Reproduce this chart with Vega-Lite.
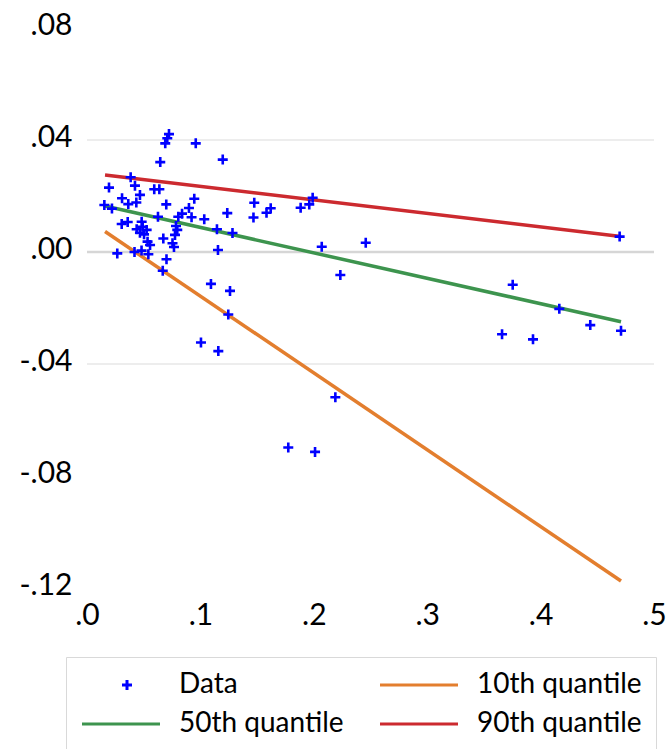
{
  "$schema": "https://vega.github.io/schema/vega-lite/v6.json",
  "width": 567,
  "height": 560,
  "autosize": {"type": "none"},
  "padding": {"left": 87, "top": 28, "right": 13, "bottom": 161},
  "background": "white",
  "config": {
    "view": {"stroke": null},
    "font": "Lato",
    "axis": {"labelFont": "Lato", "labelColor": "#000000", "labelFontSize": 30, "domain": false, "ticks": false, "grid": false},
    "legend": {"labelFont": "Lato"}
  },
  "datasets": {
    "points": [
      {"series": "Data", "x": 0.0723, "y": 0.0421},
      {"series": "Data", "x": 0.0708, "y": 0.0406},
      {"series": "Data", "x": 0.0690, "y": 0.0388},
      {"series": "Data", "x": 0.0959, "y": 0.0388},
      {"series": "Data", "x": 0.0646, "y": 0.0321},
      {"series": "Data", "x": 0.1197, "y": 0.0330},
      {"series": "Data", "x": 0.0385, "y": 0.0267},
      {"series": "Data", "x": 0.0194, "y": 0.0230},
      {"series": "Data", "x": 0.0423, "y": 0.0237},
      {"series": "Data", "x": 0.0467, "y": 0.0204},
      {"series": "Data", "x": 0.0593, "y": 0.0224},
      {"series": "Data", "x": 0.0638, "y": 0.0224},
      {"series": "Data", "x": 0.0309, "y": 0.0192},
      {"series": "Data", "x": 0.0364, "y": 0.0171},
      {"series": "Data", "x": 0.0435, "y": 0.0177},
      {"series": "Data", "x": 0.0153, "y": 0.0168},
      {"series": "Data", "x": 0.0220, "y": 0.0155},
      {"series": "Data", "x": 0.0699, "y": 0.0170},
      {"series": "Data", "x": 0.0946, "y": 0.0190},
      {"series": "Data", "x": 0.1475, "y": 0.0176},
      {"series": "Data", "x": 0.0899, "y": 0.0157},
      {"series": "Data", "x": 0.1468, "y": 0.0123},
      {"series": "Data", "x": 0.1583, "y": 0.0140},
      {"series": "Data", "x": 0.1237, "y": 0.0139},
      {"series": "Data", "x": 0.1034, "y": 0.0117},
      {"series": "Data", "x": 0.0922, "y": 0.0124},
      {"series": "Data", "x": 0.0805, "y": 0.0126},
      {"series": "Data", "x": 0.0838, "y": 0.0137},
      {"series": "Data", "x": 0.0626, "y": 0.0126},
      {"series": "Data", "x": 0.0306, "y": 0.0100},
      {"series": "Data", "x": 0.0359, "y": 0.0107},
      {"series": "Data", "x": 0.0482, "y": 0.0108},
      {"series": "Data", "x": 0.0438, "y": 0.0081},
      {"series": "Data", "x": 0.0491, "y": 0.0090},
      {"series": "Data", "x": 0.0526, "y": 0.0079},
      {"series": "Data", "x": 0.0467, "y": 0.0069},
      {"series": "Data", "x": 0.0503, "y": 0.0063},
      {"series": "Data", "x": 0.0785, "y": 0.0093},
      {"series": "Data", "x": 0.0796, "y": 0.0079},
      {"series": "Data", "x": 0.0776, "y": 0.0061},
      {"series": "Data", "x": 0.1146, "y": 0.0081},
      {"series": "Data", "x": 0.1283, "y": 0.0068},
      {"series": "Data", "x": 0.0534, "y": 0.0037},
      {"series": "Data", "x": 0.0556, "y": 0.0025},
      {"series": "Data", "x": 0.0673, "y": 0.0048},
      {"series": "Data", "x": 0.0754, "y": 0.0031},
      {"series": "Data", "x": 0.0767, "y": 0.0018},
      {"series": "Data", "x": 0.0267, "y": -0.0005},
      {"series": "Data", "x": 0.0419, "y": 0.0000},
      {"series": "Data", "x": 0.0481, "y": 0.0005},
      {"series": "Data", "x": 0.0541, "y": -0.0008},
      {"series": "Data", "x": 0.1155, "y": 0.0007},
      {"series": "Data", "x": 0.0701, "y": -0.0026},
      {"series": "Data", "x": 0.0668, "y": -0.0067},
      {"series": "Data", "x": 0.1093, "y": -0.0114},
      {"series": "Data", "x": 0.1261, "y": -0.0139},
      {"series": "Data", "x": 0.1620, "y": 0.0156},
      {"series": "Data", "x": 0.1884, "y": 0.0158},
      {"series": "Data", "x": 0.1960, "y": 0.0170},
      {"series": "Data", "x": 0.1990, "y": 0.0194},
      {"series": "Data", "x": 0.2070, "y": 0.0019},
      {"series": "Data", "x": 0.2458, "y": 0.0033},
      {"series": "Data", "x": 0.2234, "y": -0.0082},
      {"series": "Data", "x": 0.1246, "y": -0.0223},
      {"series": "Data", "x": 0.1005, "y": -0.0323},
      {"series": "Data", "x": 0.1158, "y": -0.0354},
      {"series": "Data", "x": 0.2190, "y": -0.0519},
      {"series": "Data", "x": 0.1775, "y": -0.0698},
      {"series": "Data", "x": 0.2011, "y": -0.0714},
      {"series": "Data", "x": 0.4697, "y": 0.0055},
      {"series": "Data", "x": 0.3754, "y": -0.0117},
      {"series": "Data", "x": 0.4165, "y": -0.0203},
      {"series": "Data", "x": 0.4438, "y": -0.0261},
      {"series": "Data", "x": 0.4709, "y": -0.0281},
      {"series": "Data", "x": 0.3660, "y": -0.0294},
      {"series": "Data", "x": 0.3933, "y": -0.0312}
    ],
    "lines": [
      {"series": "10th quantile", "x": 0.0159, "y": 0.0073},
      {"series": "10th quantile", "x": 0.4709, "y": -0.1175},
      {"series": "50th quantile", "x": 0.0159, "y": 0.0164},
      {"series": "50th quantile", "x": 0.4709, "y": -0.0249},
      {"series": "90th quantile", "x": 0.0159, "y": 0.0275},
      {"series": "90th quantile", "x": 0.4709, "y": 0.0055}
    ],
    "grid": [{"g": 0.04}, {"g": -0.04}],
    "zero": [{"g": 0}]
  },
  "layer": [
    {
      "data": {"name": "grid"},
      "mark": {"type": "rule", "color": "#EDEDED", "strokeWidth": 2},
      "encoding": {
        "y": {"field": "g", "type": "quantitative", "title": null, "scale": {"domain": [-0.12, 0.08], "nice": false},
          "axis": {"values": [-0.12, -0.08, -0.04, 0, 0.04, 0.08], "labelExpr": "(datum.value < 0 ? '-' : '') + replace(format(abs(datum.value), '.2f'), '0.', '.')", "labelPadding": 15, "labelOffset": -3, "labelFlush": false}}
      }
    },
    {
      "data": {"name": "zero"},
      "mark": {"type": "rule", "color": "#D6D6D6", "strokeWidth": 2.5},
      "encoding": {
        "y": {"field": "g", "type": "quantitative", "title": null, "scale": {"domain": [-0.12, 0.08], "nice": false},
          "axis": {"values": [-0.12, -0.08, -0.04, 0, 0.04, 0.08], "labelExpr": "(datum.value < 0 ? '-' : '') + replace(format(abs(datum.value), '.2f'), '0.', '.')", "labelPadding": 15, "labelOffset": -3, "labelFlush": false}}
      }
    },
    {
      "data": {"name": "lines"},
      "mark": {"type": "line", "strokeWidth": 3.5},
      "encoding": {
        "x": {"field": "x", "type": "quantitative", "title": null, "scale": {"domain": [0, 0.5], "nice": false},
          "axis": {"values": [0, 0.1, 0.2, 0.3, 0.4, 0.5], "labelExpr": "replace(format(datum.value, '.1f'), '0.', '.')", "labelPadding": 12, "labelFlush": false}},
        "y": {"field": "y", "type": "quantitative", "title": null, "scale": {"domain": [-0.12, 0.08], "nice": false},
          "axis": {"values": [-0.12, -0.08, -0.04, 0, 0.04, 0.08], "labelExpr": "(datum.value < 0 ? '-' : '') + replace(format(abs(datum.value), '.2f'), '0.', '.')", "labelPadding": 15, "labelOffset": -3, "labelFlush": false}},
        "color": {"field": "series", "type": "nominal", "title": null,
          "scale": {"domain": ["Data", "50th quantile", "10th quantile", "90th quantile"], "range": ["#0000FF", "#3D944E", "#E37E2E", "#CC2A2F"]}},
        "detail": {"field": "series"}
      }
    },
    {
      "data": {"name": "points"},
      "mark": {"type": "point", "filled": false, "size": 400, "strokeWidth": 2.6, "opacity": 1},
      "encoding": {
        "x": {"field": "x", "type": "quantitative", "title": null, "scale": {"domain": [0, 0.5], "nice": false},
          "axis": {"values": [0, 0.1, 0.2, 0.3, 0.4, 0.5], "labelExpr": "replace(format(datum.value, '.1f'), '0.', '.')", "labelPadding": 12, "labelFlush": false}},
        "y": {"field": "y", "type": "quantitative", "title": null, "scale": {"domain": [-0.12, 0.08], "nice": false},
          "axis": {"values": [-0.12, -0.08, -0.04, 0, 0.04, 0.08], "labelExpr": "(datum.value < 0 ? '-' : '') + replace(format(abs(datum.value), '.2f'), '0.', '.')", "labelPadding": 15, "labelOffset": -3, "labelFlush": false}},
        "color": {"field": "series", "type": "nominal", "title": null,
          "scale": {"domain": ["Data", "50th quantile", "10th quantile", "90th quantile"], "range": ["#0000FF", "#3D944E", "#E37E2E", "#CC2A2F"]},
          "legend": {"orient": "none", "legendX": -21, "legendY": 629, "columns": 2, "strokeColor": "#D9D9D9", "padding": 14,
            "labelFontSize": 28, "labelColor": "#000000", "labelLimit": 400, "symbolSize": 400, "symbolStrokeWidth": 3, "symbolOffset": 33, "labelOffset": 38, "columnPadding": 30, "rowPadding": 11}},
        "shape": {"field": "series", "type": "nominal", "title": null,
          "scale": {"domain": ["Data", "50th quantile", "10th quantile", "90th quantile"], "range": ["M-0.5,0H0.5M0,-0.5V0.5", "M-4.5,0H3.3", "M-4.5,0H3.3", "M-4.5,0H3.3"]}}
      }
    }
  ]
}
